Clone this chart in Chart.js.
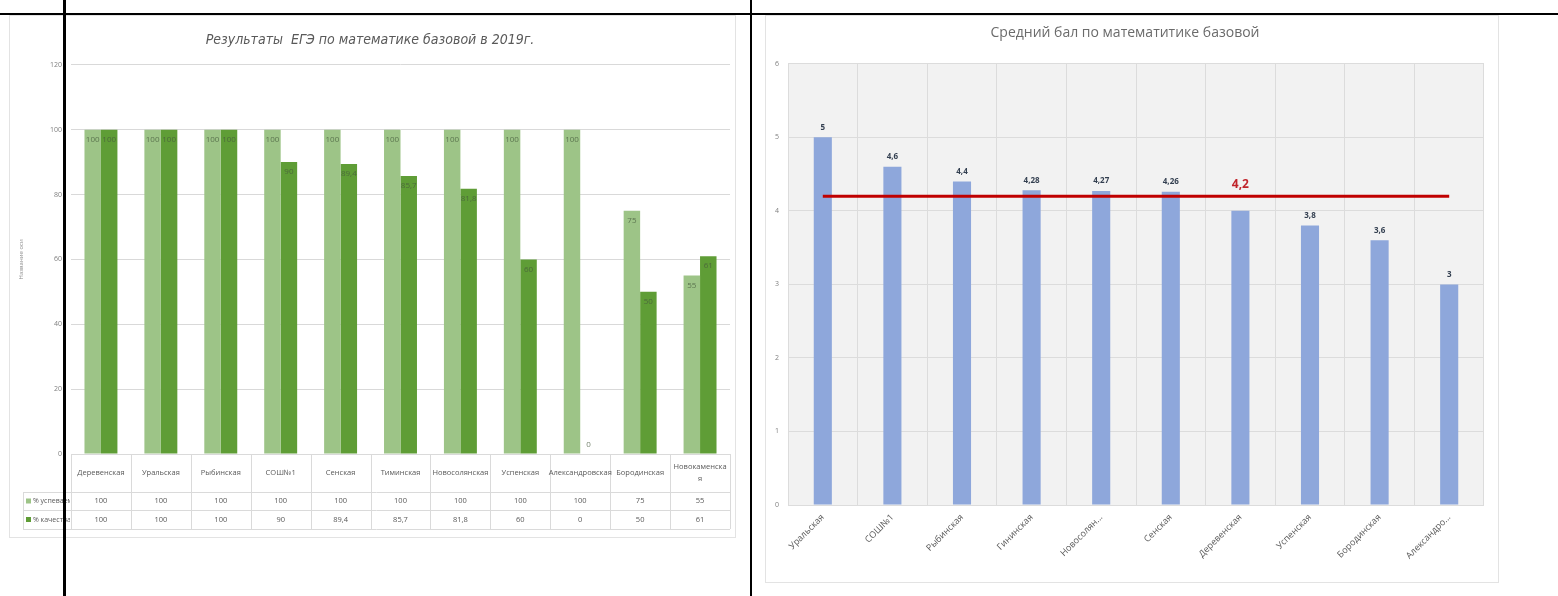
<!DOCTYPE html>
<html>
<head>
<meta charset="utf-8">
<script src="https://cdn.jsdelivr.net/npm/chart.js@4/dist/chart.umd.min.js"></script>
<style>
  html, body { margin: 0; padding: 0; background: #fff; }
  body { width: 1558px; height: 596px; position: relative; overflow: hidden; }
  .box { position: absolute; border: 1px solid #e3e3e3; background: #fff; box-sizing: border-box; }
  .box canvas { position: absolute; left: 0; top: 0; }
  .rule { position: absolute; background: #000; z-index: 10; }
</style>
</head>
<body>
<div class="box" id="boxL" style="left:9px; top:15px; width:727px; height:523px;"><canvas id="left"></canvas></div>
<div class="box" id="boxR" style="left:765px; top:15px; width:734px; height:568px;"><canvas id="right"></canvas></div>
<div class="rule" style="left:0; top:13px; width:1558px; height:2px;"></div>
<div class="rule" style="left:63px; top:0; width:3px; height:596px;"></div>
<div class="rule" style="left:750px; top:0; width:2px; height:596px;"></div>
<script>
// ---------- LEFT CHART DATA ----------
const leftTitle = 'Результаты  ЕГЭ по математике базовой в 2019г.';
const leftCategories = ['Деревенская', 'Уральская', 'Рыбинская', 'СОШ№1', 'Сенская', 'Тиминская', 'Новосолянская', 'Успенская', 'Александровская', 'Бородинская', ['Новокаменска', 'я']];
const leftSeriesNames = ['% успеваемости', '% качества'];
const successValues = [100, 100, 100, 100, 100, 100, 100, 100, 100, 75, 55];
const qualityValues = [100, 100, 100, 90, 89.4, 85.7, 81.8, 60, 0, 50, 61];
const leftYTicks = [0, 20, 40, 60, 80, 100, 120];
const leftAxisTitle = 'Название оси';

// ---------- RIGHT CHART DATA ----------
const rightTitle = 'Средний бал по математитике базовой';
const rightCategories = ['Уральская', 'СОШ№1', 'Рыбинская', 'Гининская', 'Новосолян...', 'Сенская', 'Деревенская', 'Успенская', 'Бородинская', 'Александро...'];
const avgScores = [5, 4.6, 4.4, 4.28, 4.27, 4.26, 4.0, 3.8, 3.6, 3];
const districtAverage = 4.2;
const avgLabelIndex = 6;
const rightYTicks = [0, 1, 2, 3, 4, 5, 6];

const fmt = v => String(v).replace('.', ',');
const FONT = "'Open Sans', 'Liberation Sans', sans-serif";
const NARROW = "'Liberation Sans Narrow', 'DejaVu Sans Condensed', 'Liberation Sans', sans-serif";

// ---------- LEFT CHART ----------
const LIGHT = '#9dc487';
const DARK = '#5f9d36';

const leftTablePlugin = {
  id: 'leftTable',
  afterDraw(chart) {
    const ctx = chart.ctx;
    const x = chart.scales.x;
    const area = chart.chartArea;
    const step = x.getPixelForValue(1) - x.getPixelForValue(0);
    const y0 = area.bottom, y1 = y0 + 38, y2 = y1 + 18, y3 = y2 + 19;
    const hdrLeft = 13;
    ctx.save();
    ctx.strokeStyle = '#dadada';
    ctx.lineWidth = 1;
    [[area.left, y0], [hdrLeft, y1], [hdrLeft, y2], [hdrLeft, y3]].forEach(([xs, yy]) => {
      ctx.beginPath(); ctx.moveTo(xs, yy + 0.5); ctx.lineTo(area.right, yy + 0.5); ctx.stroke();
    });
    for (let i = 0; i <= leftCategories.length; i++) {
      const xx = Math.round(x.getPixelForValue(0) - step / 2 + i * step) + 0.5;
      ctx.beginPath(); ctx.moveTo(xx, y0); ctx.lineTo(xx, y3); ctx.stroke();
    }
    ctx.beginPath(); ctx.moveTo(hdrLeft + 0.5, y1); ctx.lineTo(hdrLeft + 0.5, y3); ctx.stroke();
    ctx.fillStyle = '#595959';
    ctx.textAlign = 'center';
    ctx.textBaseline = 'middle';
    ctx.font = '7.5px ' + FONT;
    leftCategories.forEach((c, i) => {
      const cx = x.getPixelForValue(i);
      const lines = Array.isArray(c) ? c : [c];
      const lh = 12;
      lines.forEach((ln, k) => ctx.fillText(ln, cx, (y0 + y1) / 2 + (k - (lines.length - 1) / 2) * lh));
    });
    const rows = [successValues, qualityValues];
    const rowY = [(y1 + y2) / 2, (y2 + y3) / 2];
    rows.forEach((vals, r) => {
      vals.forEach((v, i) => ctx.fillText(fmt(v), x.getPixelForValue(i), rowY[r]));
    });
    ctx.textAlign = 'left';
    ctx.font = '7px ' + FONT;
    [LIGHT, DARK].forEach((col, r) => {
      ctx.fillStyle = col;
      ctx.fillRect(hdrLeft + 3, rowY[r] - 2.5, 5, 5);
      ctx.save();
      ctx.beginPath(); ctx.rect(hdrLeft, rowY[r] - 8, area.left - hdrLeft - 1, 16); ctx.clip();
      ctx.fillStyle = '#595959';
      ctx.fillText(leftSeriesNames[r], hdrLeft + 10, rowY[r]);
      ctx.restore();
    });
    ctx.restore();
  }
};

const barValuePlugin = {
  id: 'barValues',
  afterDatasetsDraw(chart, args, opts) {
    if (!opts || !opts.enabled) return;
    const ctx = chart.ctx;
    ctx.save();
    ctx.textAlign = 'center';
    ctx.textBaseline = 'middle';
    chart.data.datasets.forEach((ds, di) => {
      if (ds.type === 'line') return;
      const meta = chart.getDatasetMeta(di);
      meta.data.forEach((bar, i) => {
        const v = ds.data[i];
        if (opts.mode === 'inside') {
          ctx.font = '8px ' + FONT;
          ctx.fillStyle = opts.color;
          const y = v === 0 ? bar.y - 9 : bar.y + 10;
          ctx.fillText(fmt(v), bar.x, y);
        } else {
          if (i === opts.skip) return;
          ctx.font = 'bold 8px ' + FONT;
          ctx.fillStyle = opts.color;
          ctx.fillText(fmt(v), bar.x, bar.y - 10);
        }
      });
    });
    ctx.restore();
  }
};

const leftCanvas = document.getElementById('left');
leftCanvas.width = 725; leftCanvas.height = 521;
leftCanvas.style.width = '725px'; leftCanvas.style.height = '521px';

new Chart(leftCanvas, {
  type: 'bar',
  data: {
    labels: leftCategories.map(c => Array.isArray(c) ? c.join('') : c),
    datasets: [
      { label: leftSeriesNames[0], data: successValues, backgroundColor: LIGHT },
      { label: leftSeriesNames[1], data: qualityValues, backgroundColor: DARK }
    ]
  },
  options: {
    responsive: false,
    animation: false,
    devicePixelRatio: 1,
    layout: { padding: { left: 0, right: 5, top: 0, bottom: 83 } },
    datasets: { bar: { categoryPercentage: 0.55, barPercentage: 1.0 } },
    plugins: {
      legend: { display: false },
      tooltip: { enabled: false },
      title: {
        display: true, text: leftTitle, color: '#595959',
        font: { family: NARROW, size: 14, style: 'italic', weight: 'normal' },
        padding: { top: 16, bottom: 16 }
      },
      barValues: { enabled: true, mode: 'inside', color: 'rgba(70,90,60,0.75)' }
    },
    scales: {
      x: { display: false },
      y: {
        min: 0, max: 120,
        afterBuildTicks: s => { s.ticks = leftYTicks.map(v => ({ value: v })); },
        afterFit: s => { s.width = 61; },
        border: { display: false },
        grid: { color: '#d9d9d9', drawTicks: false },
        ticks: { color: '#7f7f7f', font: { family: FONT, size: 7 }, padding: 9 },
        title: { display: true, text: leftAxisTitle, color: '#8c8c8c', font: { family: FONT, size: 6 }, padding: { top: 8, bottom: 0 } }
      }
    }
  },
  plugins: [leftTablePlugin, barValuePlugin]
});

// ---------- RIGHT CHART ----------
const plotBgPlugin = {
  id: 'plotBg',
  beforeDraw(chart) {
    const a = chart.chartArea, ctx = chart.ctx;
    ctx.save(); ctx.fillStyle = '#f2f2f2';
    ctx.fillRect(a.left, a.top, a.right - a.left, a.bottom - a.top);
    ctx.restore();
  }
};

const avgLabelPlugin = {
  id: 'avgLabel',
  afterDatasetsDraw(chart) {
    const meta = chart.getDatasetMeta(1);
    const pt = meta.data[avgLabelIndex];
    const ctx = chart.ctx;
    ctx.save();
    ctx.font = 'bold 12px ' + FONT;
    ctx.fillStyle = '#c0242b';
    ctx.textAlign = 'center'; ctx.textBaseline = 'middle';
    ctx.fillText(fmt(districtAverage), pt.x, pt.y - 12);
    ctx.restore();
  }
};

const rightCanvas = document.getElementById('right');
rightCanvas.width = 732; rightCanvas.height = 566;
rightCanvas.style.width = '732px'; rightCanvas.style.height = '566px';

new Chart(rightCanvas, {
  type: 'bar',
  data: {
    labels: rightCategories,
    datasets: [
      { type: 'bar', data: avgScores, backgroundColor: '#8ea7db', categoryPercentage: 1, barPercentage: 0.26, order: 2 },
      { type: 'line', data: rightCategories.map(() => districtAverage), borderColor: '#c00000', borderWidth: 3, pointRadius: 0, order: 1 }
    ]
  },
  options: {
    responsive: false,
    animation: false,
    devicePixelRatio: 1,
    layout: { padding: { left: 0, right: 14, top: 0, bottom: 0 } },
    plugins: {
      legend: { display: false },
      tooltip: { enabled: false },
      title: {
        display: true, text: rightTitle, color: '#6b6b6b',
        font: { family: FONT, size: 14, weight: 'normal' },
        padding: { top: 9, bottom: 22 }
      },
      barValues: { enabled: true, mode: 'above', color: '#333f50', skip: avgLabelIndex }
    },
    scales: {
      x: {
        afterFit: s => { s.height = 77; },
        border: { display: false },
        grid: { offset: true, color: '#dcdcdc', drawTicks: false },
        ticks: { color: '#595959', font: { family: FONT, size: 9 }, minRotation: 45, maxRotation: 45, padding: 7, autoSkip: false }
      },
      y: {
        min: 0, max: 6,
        afterBuildTicks: s => { s.ticks = rightYTicks.map(v => ({ value: v })); },
        afterFit: s => { s.width = 22; },
        border: { display: false },
        grid: { color: '#dcdcdc', drawTicks: false },
        ticks: { color: '#7f7f7f', font: { family: FONT, size: 7 }, padding: 9 }
      }
    }
  },
  plugins: [plotBgPlugin, barValuePlugin, avgLabelPlugin]
});
</script>
</body>
</html>
